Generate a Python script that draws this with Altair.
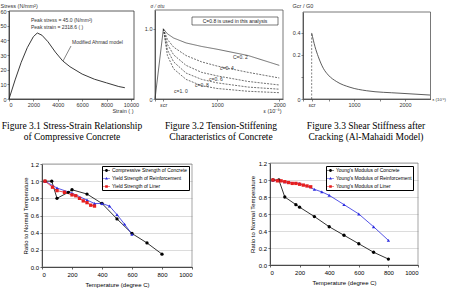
import altair as alt
import pandas as pd

W, H = 450, 290
SANS = "Liberation Sans"
SERIF = "Liberation Serif"

# ---------------- Figure 3.1 : stress-strain of compressive concrete
f1_strain = [0, 500, 1000, 1500, 2000, 2318.6, 2700, 3200, 3800, 4400, 5000, 6000, 7000, 8000, 9000, 9500]
f1_stress = [0, 13, 25, 35, 42.5, 45.0, 43.5, 39, 32, 26, 22, 17, 13.5, 11, 8.5, 7.7]
f1_xdom = [0, 10250]
f1_ydom = [0, 60]
f1_xticks = [0, 2000, 4000, 6000, 8000, 10000]
f1_yticks = [0, 10, 20, 30, 40, 50, 60]

# ---------------- Figure 3.2 : tension stiffening
f2_rise_strain = [0, 135]
f2_rise_ratio = [0, 1.0]
f2_strain = [135, 200, 300, 500, 750, 1000, 1500, 2000]
f2_names = ["c=0.2", "c=0.4", "c=0.6", "c=0.8", "c=1.0"]
f2_c02 = [1.0, 0.93, 0.87, 0.80, 0.75, 0.71, 0.62, 0.48]
f2_c04 = [1.0, 0.85, 0.74, 0.62, 0.53, 0.47, 0.38, 0.30]
f2_c06 = [1.0, 0.78, 0.63, 0.48, 0.38, 0.33, 0.25, 0.20]
f2_c08 = [1.0, 0.70, 0.53, 0.37, 0.28, 0.23, 0.17, 0.14]
f2_c10 = [1.0, 0.62, 0.43, 0.28, 0.19, 0.15, 0.11, 0.09]
f2_xdom = [0, 2060]
f2_ydom = [0, 1.27]
f2_xticks = [0, 135, 1000, 2000]
f2_yticks = [0, 1.0]

# ---------------- Figure 3.3 : shear stiffness after cracking
f3_ecr = 170
f3_peak = 0.4
f3_strain = [170, 235, 300, 398, 496, 661, 922, 1249, 1902, 2490]
f3_ratio = [0.40, 0.317, 0.256, 0.186, 0.145, 0.105, 0.071, 0.05, 0.035, 0.024]
f3_xdom = [0, 2500]
f3_ydom = [0, 0.527]
f3_xticks = [0, 170, 500, 1000, 1500, 2000]
f3_yticks = [0, 0.1333, 0.2667, 0.4]

# ---------------- Strength ratio vs temperature
s4_names = ["Compressive Strength of Concrete", "Yield Strength of Reinforcement", "Yield Strength of Liner"]
s4_t_conc = [20, 65, 100, 175, 200, 300, 400, 500, 600, 700, 800]
s4_conc = [1.0, 1.0, 0.80, 0.87, 0.90, 0.85, 0.74, 0.56, 0.39, 0.28, 0.15]
s4_t_reinf = [20, 100, 200, 300, 350, 400, 450, 500, 550, 600]
s4_reinf = [1.0, 0.92, 0.86, 0.78, 0.74, 0.74, 0.71, 0.61, 0.50, 0.38]
s4_t_liner = [20, 70, 100, 150, 200, 225, 250, 275, 300, 325, 350]
s4_liner = [1.0, 0.93, 0.89, 0.87, 0.84, 0.83, 0.80, 0.77, 0.75, 0.72, 0.71]

# ---------------- Young's modulus ratio vs temperature
s5_names = ["Young's Modulus of Concrete", "Young's Modulus of Reinforcement", "Young's Modulus of Liner"]
s5_t_conc = [20, 60, 100, 175, 200, 300, 400, 500, 600, 700, 800]
s5_conc = [1.0, 1.0, 0.80, 0.71, 0.68, 0.57, 0.45, 0.35, 0.25, 0.15, 0.07]
s5_t_reinf = [20, 100, 200, 300, 350, 400, 500, 600, 700, 800]
s5_reinf = [1.0, 0.98, 0.96, 0.89, 0.86, 0.82, 0.71, 0.60, 0.45, 0.29]
s5_t_liner = [20, 50, 75, 100, 125, 150, 175, 200, 225, 250, 275]
s5_liner = [1.0, 0.99, 0.99, 0.98, 0.97, 0.96, 0.96, 0.95, 0.94, 0.93, 0.92]

temp_dom = [0, 1000]
ratio_dom = [0, 1.2]
temp_ticks = [0, 200, 400, 600, 800, 1000]
ratio_ticks = [0, 0.2, 0.4, 0.6, 0.8, 1.0, 1.2]
series_colors = ["#000000", "#2a2ae0", "#e61e1e"]
series_shapes = ["circle", "triangle-up", "square"]
# legend symbols: a short line with the series marker on it
BAR = "M-1,-0.1H1V0.1H-1Z "
legend_paths = [
    BAR + "M-0.42,0A0.42,0.42 0 1,1 0.42,0A0.42,0.42 0 1,1 -0.42,0Z",
    BAR + "M0,-0.45L0.42,0.32H-0.42Z",
    BAR + "M-0.38,-0.38H0.38V0.38H-0.38Z",
]


def sc(dom, rng):
    return alt.Scale(domain=dom, range=rng, nice=False, zero=False)


def small_axis(orient, offset, values, **kw):
    base = dict(orient=orient, offset=offset, values=values, labelFont=SANS, labelFontSize=5.5,
                labelColor="#333", tickSize=2, tickColor="#333", tickWidth=0.6, domainColor="#333",
                domainWidth=0.8, grid=False, labelPadding=1, titleFont=SANS, titleFontSize=5.5,
                titleFontWeight="normal", titleColor="#333", titleAngle=0, titleBaseline="middle")
    base.update(kw)
    return alt.Axis(**base)


def label(text, x, y, size=5.5, align="left", font=SANS, color="#333", baseline="middle", **kw):
    return alt.Chart(pd.DataFrame({"t": [text]})).mark_text(
        align=align, baseline=baseline, fontSize=size, font=font, color=color, **kw
    ).encode(x=alt.value(x), y=alt.value(y), text="t:N")


def frame(xs, xa, ys, ya, xdom, ydom, color="#333", width=0.8):
    return alt.Chart(pd.DataFrame({"a": [0]})).mark_rect(
        fill="transparent", stroke=color, strokeWidth=width
    ).encode(
        x=alt.X(datum=xdom[0], scale=xs, axis=xa), x2=alt.X2(datum=xdom[1]),
        y=alt.Y(datum=ydom[0], scale=ys, axis=ya), y2=alt.Y2(datum=ydom[1]),
    )


# ======== Panel 1
x1 = sc(f1_xdom, [9, 134])
y1 = sc(f1_ydom, [99, 11])
xa1 = small_axis("bottom", 99 - H, f1_xticks, format="d",
                 title="Strain ( )", titleX=133, titleY=11, titleAlign="right")
ya1 = small_axis("left", -9, f1_yticks, format="d",
                 title="Stress (N/mm²)", titleX=-9, titleY=5, titleAlign="left")
df1 = pd.DataFrame({"strain": f1_strain, "stress": f1_stress})
p1_line = alt.Chart(df1).mark_line(color="#222", strokeWidth=0.9).encode(
    x=alt.X("strain:Q", scale=x1, axis=xa1),
    y=alt.Y("stress:Q", scale=y1, axis=ya1),
)
panel1 = alt.layer(frame(x1, xa1, y1, ya1, f1_xdom, f1_ydom), p1_line)

# ======== Panel 2
x2 = sc(f2_xdom, [155, 283])
y2 = sc(f2_ydom, [99, 10])
xa2 = small_axis("bottom", 99 - H, f2_xticks, format="d",
                 labelExpr="datum.value == 0 ? '' : (datum.value == 135 ? 'εcr' : datum.label)",
                 title="ε (10⁻⁶)", titleX=272, titleY=11, titleAlign="center")
ya2 = small_axis("left", -155, f2_yticks, format=".1f",
                 labelExpr="datum.value == 0 ? '0' : datum.label",
                 title="σ / σtu", titleX=-5, titleY=5, titleAlign="left", titleFont=SERIF,
                 titleFontStyle="italic")
rows = []
for name, vals in zip(f2_names, [f2_c02, f2_c04, f2_c06, f2_c08, f2_c10]):
    for s, v in zip(f2_strain, vals):
        rows.append({"strain": s, "ratio": v, "c": name})
df2 = pd.DataFrame(rows)
df2r = pd.DataFrame({"strain": f2_rise_strain, "ratio": f2_rise_ratio})
p2_curves = alt.Chart(df2).mark_line(color="#333", strokeWidth=0.7).encode(
    x=alt.X("strain:Q", scale=x2, axis=xa2),
    y=alt.Y("ratio:Q", scale=y2, axis=ya2),
    strokeDash=alt.StrokeDash("c:N", scale=alt.Scale(domain=f2_names, range=[[1, 0], [2, 1.2], [2, 1.2], [2, 1.2], [2, 1.2]]), legend=None),
    detail="c:N",
)
p2_rise = alt.Chart(df2r).mark_line(color="#333", strokeWidth=0.7).encode(
    x=alt.X("strain:Q", scale=x2, axis=xa2), y=alt.Y("ratio:Q", scale=y2, axis=ya2))
panel2 = alt.layer(frame(x2, xa2, y2, ya2, f2_xdom, f2_ydom, color="#555"), p2_curves, p2_rise)

# ======== Panel 3
x3 = sc(f3_xdom, [303, 430.5])
y3 = sc(f3_ydom, [99, 12])
xa3 = small_axis("bottom", 99 - H, f3_xticks, format="d",
                 labelExpr="datum.value == 170 ? 'εcr' : (datum.value == 1000 || datum.value == 2000 ? datum.label : '')",
                 title="ε (10⁻⁶)", titleX=432, titleY=0, titleAlign="left", titleFontSize=4.3)
ya3 = small_axis("left", -303, f3_yticks,
                 labelExpr="datum.value == 0 ? '0' : (datum.value > 0.39 ? '0.4' : (datum.value > 0.26 ? '0.2' : ''))",
                 title="Gcr / G0", titleX=-11, titleY=5, titleAlign="left")
df3 = pd.DataFrame({"strain": f3_strain, "ratio": f3_ratio})
p3_line = alt.Chart(df3).mark_line(color="#333", strokeWidth=0.8, interpolate="monotone").encode(
    x=alt.X("strain:Q", scale=x3, axis=xa3),
    y=alt.Y("ratio:Q", scale=y3, axis=ya3),
)
p3_ecr = alt.Chart(pd.DataFrame({"a": [0]})).mark_rule(color="#333", strokeWidth=0.6, strokeDash=[2, 1.5]).encode(
    x=alt.X(datum=f3_ecr, scale=x3, axis=xa3),
    y=alt.Y(datum=0, scale=y3, axis=ya3), y2=alt.Y2(datum=f3_peak))
panel3 = alt.layer(frame(x3, xa3, y3, ya3, f3_xdom, f3_ydom, color="#555"), p3_ecr, p3_line)


# ======== Bottom panels
def temp_panel(names, series, xr, yr, legend_xy, ytitle_x):
    xs = sc(temp_dom, xr)
    ys = sc(ratio_dom, yr)
    rows = []
    for name, (ts, vs) in zip(names, series):
        for t, v in zip(ts, vs):
            rows.append({"T": t, "ratio": v, "series": name})
    df = pd.DataFrame(rows)
    lx, ly = legend_xy
    leg = alt.Legend(orient="none", legendX=lx, legendY=ly, title=None, direction="vertical",
                     padding=1, rowPadding=2, labelFont=SANS, labelFontSize=4.9, labelLimit=300,
                     labelColor="#000", labelOffset=2, symbolSize=49, symbolOffset=0,
                     symbolStrokeWidth=0, fillColor="#ffffff", strokeColor="#000000")
    color_scale = alt.Scale(domain=names, range=series_colors)
    xaxis = alt.Axis(orient="bottom", offset=yr[0] - H, values=temp_ticks, format="d", labelFont=SANS,
                     labelFontSize=6, labelColor="#000", tickSize=2, tickColor="#000", tickWidth=0.6,
                     domainColor="#000", domainWidth=0.8, grid=False, labelPadding=2,
                     title="Temperature (degree C)", titleFont=SANS, titleFontSize=6, titleFontWeight="normal",
                     titleColor="#000", titleX=(xr[0] + xr[1]) / 2, titleY=17, titleAlign="center",
                     titleBaseline="middle")
    yaxis = alt.Axis(orient="left", offset=-xr[0], values=ratio_ticks, format=".1f", labelFont=SANS,
                     labelFontSize=6, labelColor="#000", tickSize=2, tickColor="#000", tickWidth=0.6,
                     domainColor="#000", domainWidth=0.8, grid=True, gridColor="#c4c4c4", gridWidth=0.6,
                     labelPadding=1.5, title="Ratio to Normal Temperature", titleFont=SANS, titleFontSize=6,
                     titleFontWeight="normal", titleColor="#000", titleX=ytitle_x, titleY=(yr[0] + yr[1]) / 2,
                     titleAlign="center", titleBaseline="middle", titleAngle=270)
    layers = [frame(xs, xaxis, ys, yaxis, temp_dom, ratio_dom, color="#808080", width=0.7)]
    for name, col in zip(names, series_colors):
        layers.append(
            alt.Chart(df).transform_filter(alt.datum.series == name).mark_line(
                strokeWidth=0.8, color=col
            ).encode(x=alt.X("T:Q", scale=xs, axis=xaxis), y=alt.Y("ratio:Q", scale=ys, axis=yaxis))
        )
    for name, col, shp in zip(names, series_colors, series_shapes):
        layers.append(
            alt.Chart(df).transform_filter(alt.datum.series == name).mark_point(
                filled=True, shape=shp, color=col, size=11, opacity=1
            ).encode(x=alt.X("T:Q", scale=xs, axis=xaxis), y=alt.Y("ratio:Q", scale=ys, axis=yaxis))
        )
    layers.append(
        alt.Chart(df).transform_filter("false").mark_point(filled=True, opacity=1).encode(
            x=alt.X("T:Q", scale=xs, axis=xaxis),
            y=alt.Y("ratio:Q", scale=ys, axis=yaxis),
            color=alt.Color("series:N", scale=color_scale, legend=leg),
            shape=alt.Shape("series:N", scale=alt.Scale(domain=names, range=legend_paths), legend=leg),
        )
    )
    return alt.layer(*layers)


panel4 = temp_panel(s4_names, [(s4_t_conc, s4_conc), (s4_t_reinf, s4_reinf), (s4_t_liner, s4_liner)],
                    [42, 192], [267, 164], (102, 166), -17)
panel5 = temp_panel(s5_names, [(s5_t_conc, s5_conc), (s5_t_reinf, s5_reinf), (s5_t_liner, s5_liner)],
                    [270, 418], [265, 163], (326, 166), -18)

# ======== Annotations and captions
texts = [
    label("Peak stress = 45.0 (N/mm²)", 31, 20, size=5),
    label("Peak strain = 2318.6 ( )", 31, 27, size=5),
    label("Modified Ahmad model", 72, 42, size=5),
    alt.Chart(pd.DataFrame({"a": [0]})).mark_rule(color="#333", strokeWidth=0.6).encode(
        x=alt.value(63), y=alt.value(61), x2=alt.value(71), y2=alt.value(46)),
    alt.Chart(pd.DataFrame({"a": [0]})).mark_rect(fill="#fff", stroke="#222", strokeWidth=0.6).encode(
        x=alt.value(192), x2=alt.value(278), y=alt.value(17), y2=alt.value(25)),
    label("C=0.8 is used in this analysis", 235, 21, size=5, align="center", color="#222"),
    label("C=0. 2", 233, 57, size=5),
    label("c=0. 4", 220, 68, size=5),
    label("c=0. 6", 209, 79, size=5),
    label("c=0. 8", 195, 85, size=5),
    label("c=1. 0", 174, 91, size=5),
    label("Figure 3.1 Stress-Strain Relationship", 72, 129, size=9.5, align="center", font=SERIF,
          color="#000", baseline="alphabetic"),
    label("of Compressive Concrete", 72, 140, size=9.5, align="center", font=SERIF, color="#000",
          baseline="alphabetic"),
    label("Figure 3.2 Tension-Stiffening", 221, 129, size=9.5, align="center", font=SERIF, color="#000",
          baseline="alphabetic"),
    label("Characteristics of Concrete", 221, 140, size=9.5, align="center", font=SERIF, color="#000",
          baseline="alphabetic"),
    label("Figure 3.3 Shear Stiffness after", 366, 129, size=9.5, align="center", font=SERIF, color="#000",
          baseline="alphabetic"),
    label("Cracking (Al-Mahaidi Model)", 366, 140, size=9.5, align="center", font=SERIF, color="#000",
          baseline="alphabetic"),
]

chart = alt.layer(panel1, panel2, panel3, panel4, panel5, *texts).resolve_scale(
    x="independent", y="independent", color="independent",
    shape="independent", strokeDash="independent",
).resolve_axis(x="independent", y="independent").resolve_legend(
    color="independent", shape="independent"
).properties(
    width=W, height=H, padding=0, autosize=alt.AutoSizeParams(type="none")
).configure_view(stroke=None)

chart.save("out.html", embed_options={"renderer": "svg", "actions": False})
